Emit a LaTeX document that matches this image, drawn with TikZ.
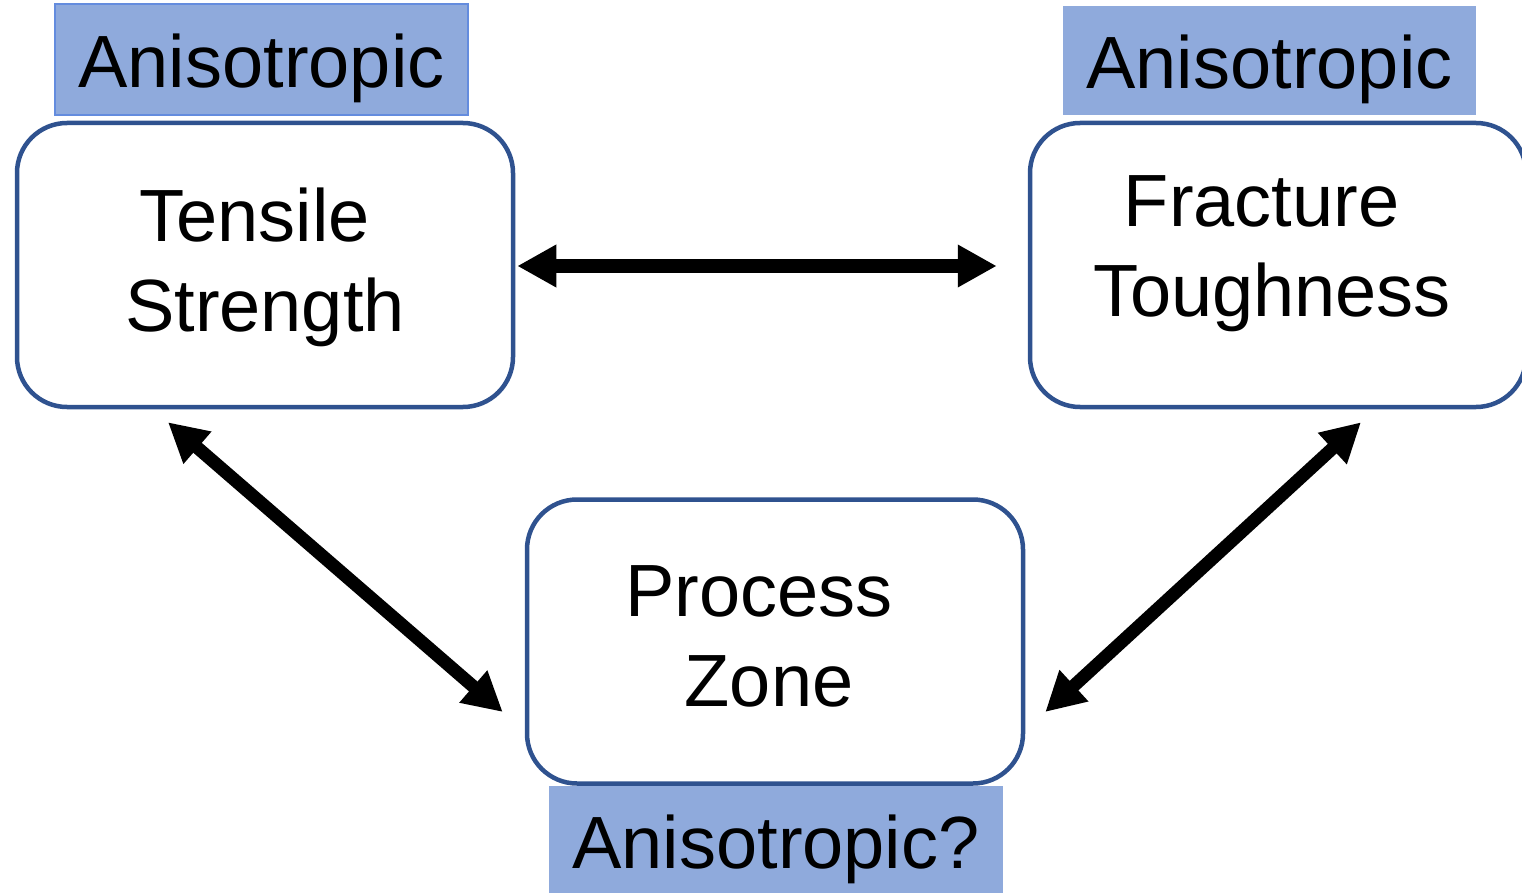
\documentclass[tikz,border=0pt]{standalone}
\usepackage{fontspec}
\setmainfont{Liberation Sans}
\usetikzlibrary{arrows.meta,calc}
\definecolor{boxedge}{RGB}{47,82,143}
\definecolor{tagfill}{RGB}{143,170,220}
\definecolor{tagedge}{RGB}{100,140,222}
\begin{document}
\begin{tikzpicture}[x=1pt,y=-1pt,
  every node/.style={font=\fontsize{74}{90}\selectfont, inner sep=0pt},
  propbox/.style={draw=boxedge, line width=4.5pt, rounded corners=50pt, fill=white,
    minimum width=496pt, minimum height=284pt},
  boxtext/.style={align=center},
  tag/.style={fill=tagfill, text height=57pt, text depth=0pt},
  link/.style={line width=13pt,
    {Triangle[length=39pt,width=40pt]}-{Triangle[length=39pt,width=40pt]}}
]
\useasboundingbox (0,0) rectangle (1522,893);

% property boxes
\node[propbox] (ts) at (265,265) {};
\node[propbox] (ft) at (1278,265) {};
\node[propbox] (pz) at (775,641.5) {};

% box captions
\node[boxtext] (ts-t) at (265,267) {\mbox{Tensile\ }\\Strength};
\node[boxtext] (ft-t) at (1272,254) {\mbox{Fracture\ }\\Toughness};
\node[boxtext] (pz-t) at (769,636) {\mbox{Process\ }\\Zone};

% tags
\node[tag, draw=tagedge, line width=1.5pt, minimum width=413pt, minimum height=111pt]
  (ts-tag) at (261.5,59.5) {Anisotropic};
\node[tag, minimum width=413pt, minimum height=109pt]
  (ft-tag) at (1269.5,60.5) {Anisotropic};
\node[tag, minimum width=454pt, minimum height=107pt]
  (pz-tag) at (776,839.5) {Anisotropic?};

% relations
\draw[link] ([xshift=2pt,yshift=-1pt]ts.east) -- ([xshift=-31pt,yshift=-1pt]ft.west);
\draw[link] ($(ts.south)+(-97,13)$) -- ($(pz.west)+(-22,70.5)$);
\draw[link] ($(ft.south)+(83,13)$) -- ($(pz.east)+(20,70.5)$);
\end{tikzpicture}
\end{document}
